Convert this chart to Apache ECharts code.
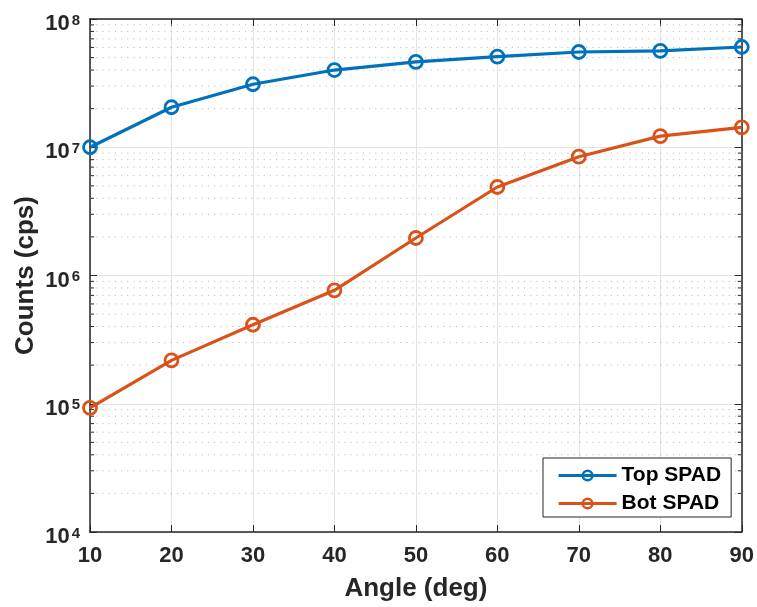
<!DOCTYPE html>
<html>
<head>
<meta charset="utf-8">
<script src="https://cdn.jsdelivr.net/npm/echarts@6/dist/echarts.min.js"></script>
<style>
  html, body { margin: 0; padding: 0; background: #ffffff; }
  #chart { width: 757px; height: 607px; }
</style>
</head>
<body>
<div id="chart"></div>
<script>
// Detector count rate versus incidence angle
const angles = [10, 20, 30, 40, 50, 60, 70, 80, 90];
const topSpad = [1.0e7, 2.05e7, 3.1e7, 4.0e7, 4.63e7, 5.09e7, 5.53e7, 5.64e7, 6.05e7];
const botSpad = [9.3e4, 2.18e5, 4.13e5, 7.66e5, 1.96e6, 4.9e6, 8.44e6, 1.22e7, 1.43e7];
const seriesNames = ['Top SPAD', 'Bot SPAD'];
const xTicks = [10, 20, 30, 40, 50, 60, 70, 80, 90];
const yDecades = [1e4, 1e5, 1e6, 1e7, 1e8];

// minor gridlines at 2..9 x each decade
const minorValues = [];
for (let d = 0; d < yDecades.length - 1; d++) {
  for (let m = 2; m <= 9; m++) minorValues.push(m * yDecades[d]);
}

const FONT = '"Liberation Sans", Arial, Helvetica, sans-serif';
const INK = '#262626';
const BLUE = '#0072BD';
const ORANGE = '#D95319';
const xMin = xTicks[0], xMax = xTicks[xTicks.length - 1];

const chart = echarts.init(document.getElementById('chart'), null, { renderer: 'canvas' });

function dataSeries(name, values, color) {
  return {
    name: name,
    type: 'line',
    data: angles.map((a, i) => [a, values[i]]),
    symbol: 'circle',
    symbolSize: 13,
    lineStyle: { color: color, width: 3.2 },
    itemStyle: { color: 'rgba(255,255,255,0)', borderColor: color, borderWidth: 2.8 },
    emphasis: { disabled: true },
    z: 5
  };
}

chart.setOption({
  animation: false,
  backgroundColor: '#ffffff',
  grid: { left: 90, right: 15, top: 19, bottom: 75 },
  legend: {
    data: seriesNames,
    orient: 'vertical',
    left: 543,
    top: 458,
    itemWidth: 58,
    itemHeight: 12,
    itemGap: 7,
    padding: [7, 10, 3, 14],
    backgroundColor: '#ffffff',
    borderColor: INK,
    borderWidth: 1,
    borderRadius: 0,
    lineStyle: { width: 3.2 },
    itemStyle: { borderWidth: 2.5 },
    textStyle: { fontFamily: FONT, fontSize: 21, lineHeight: 16, fontWeight: 'bold', color: '#000000' }
  },
  xAxis: [{
    type: 'value',
    min: xMin, max: xMax, interval: 10,
    name: 'Angle (deg)',
    nameLocation: 'middle',
    nameGap: 44,
    nameTextStyle: { fontFamily: FONT, fontSize: 26, fontWeight: 'bold', color: INK },
    axisLine: { lineStyle: { color: INK, width: 1.5 } },
    axisTick: { inside: true, length: 7, lineStyle: { color: INK } },
    axisLabel: { margin: 13, fontFamily: FONT, fontSize: 22, fontWeight: 'bold', color: INK },
    splitLine: { show: true, lineStyle: { color: '#e3e3e3', width: 1 } }
  }, {
    type: 'value',
    position: 'top',
    min: xMin, max: xMax, interval: 10,
    axisLine: { show: true, onZero: false, lineStyle: { color: INK, width: 1.5 } },
    axisTick: { show: true, inside: true, length: 7, lineStyle: { color: INK } },
    axisLabel: { show: false },
    splitLine: { show: false }
  }],
  yAxis: [{
    type: 'log',
    logBase: 10,
    min: yDecades[0], max: yDecades[yDecades.length - 1],
    name: 'Counts (cps)',
    nameLocation: 'middle',
    nameGap: 51,
    nameMoveOverlap: false,
    nameTextStyle: { fontFamily: FONT, fontSize: 26, fontWeight: 'bold', color: INK },
    axisLine: { lineStyle: { color: INK, width: 1.5 } },
    axisTick: { inside: true, length: 7, lineStyle: { color: INK } },
    axisLabel: {
      margin: 10,
      formatter: v => '{b|10}{s|' + Math.round(Math.log10(v)) + '}',
      rich: {
        b: { fontFamily: FONT, fontSize: 22, fontWeight: 'bold', color: INK, lineHeight: 22, padding: [10, 0, 0, 0] },
        s: { fontFamily: FONT, fontSize: 15, fontWeight: 'bold', color: INK, lineHeight: 16, verticalAlign: 'top', padding: [5, 0, 0, 2] }
      }
    },
    splitLine: { show: true, lineStyle: { color: '#e3e3e3', width: 1 } }
  }, {
    type: 'log',
    logBase: 10,
    position: 'right',
    min: yDecades[0], max: yDecades[yDecades.length - 1],
    axisLine: { show: true, onZero: false, lineStyle: { color: INK, width: 1.5 } },
    axisTick: { show: true, inside: true, length: 7, lineStyle: { color: INK } },
    axisLabel: { show: false },
    splitLine: { show: false }
  }],
  series: [
    {
      // dotted minor gridlines with short inward minor ticks on both sides
      type: 'custom',
      silent: true,
      z: 1,
      data: minorValues.map(v => [xMin, v]),
      renderItem: function (params, api) {
        const v = api.value(1);
        const p0 = api.coord([xMin, v]);
        const p1 = api.coord([xMax, v]);
        return {
          type: 'group',
          children: [{
            type: 'line',
            shape: { x1: p0[0], y1: p0[1], x2: p1[0], y2: p1[1] },
            style: { stroke: '#bdbdbd', lineWidth: 1, lineDash: [1.2, 5] }
          }, {
            type: 'line',
            shape: { x1: p0[0], y1: p0[1], x2: p0[0] + 4, y2: p0[1] },
            style: { stroke: INK, lineWidth: 1 }
          }, {
            type: 'line',
            shape: { x1: p1[0] - 4, y1: p1[1], x2: p1[0], y2: p1[1] },
            style: { stroke: INK, lineWidth: 1 }
          }]
        };
      }
    },
    dataSeries(seriesNames[0], topSpad, BLUE),
    dataSeries(seriesNames[1], botSpad, ORANGE)
  ]
});
</script>
</body>
</html>
